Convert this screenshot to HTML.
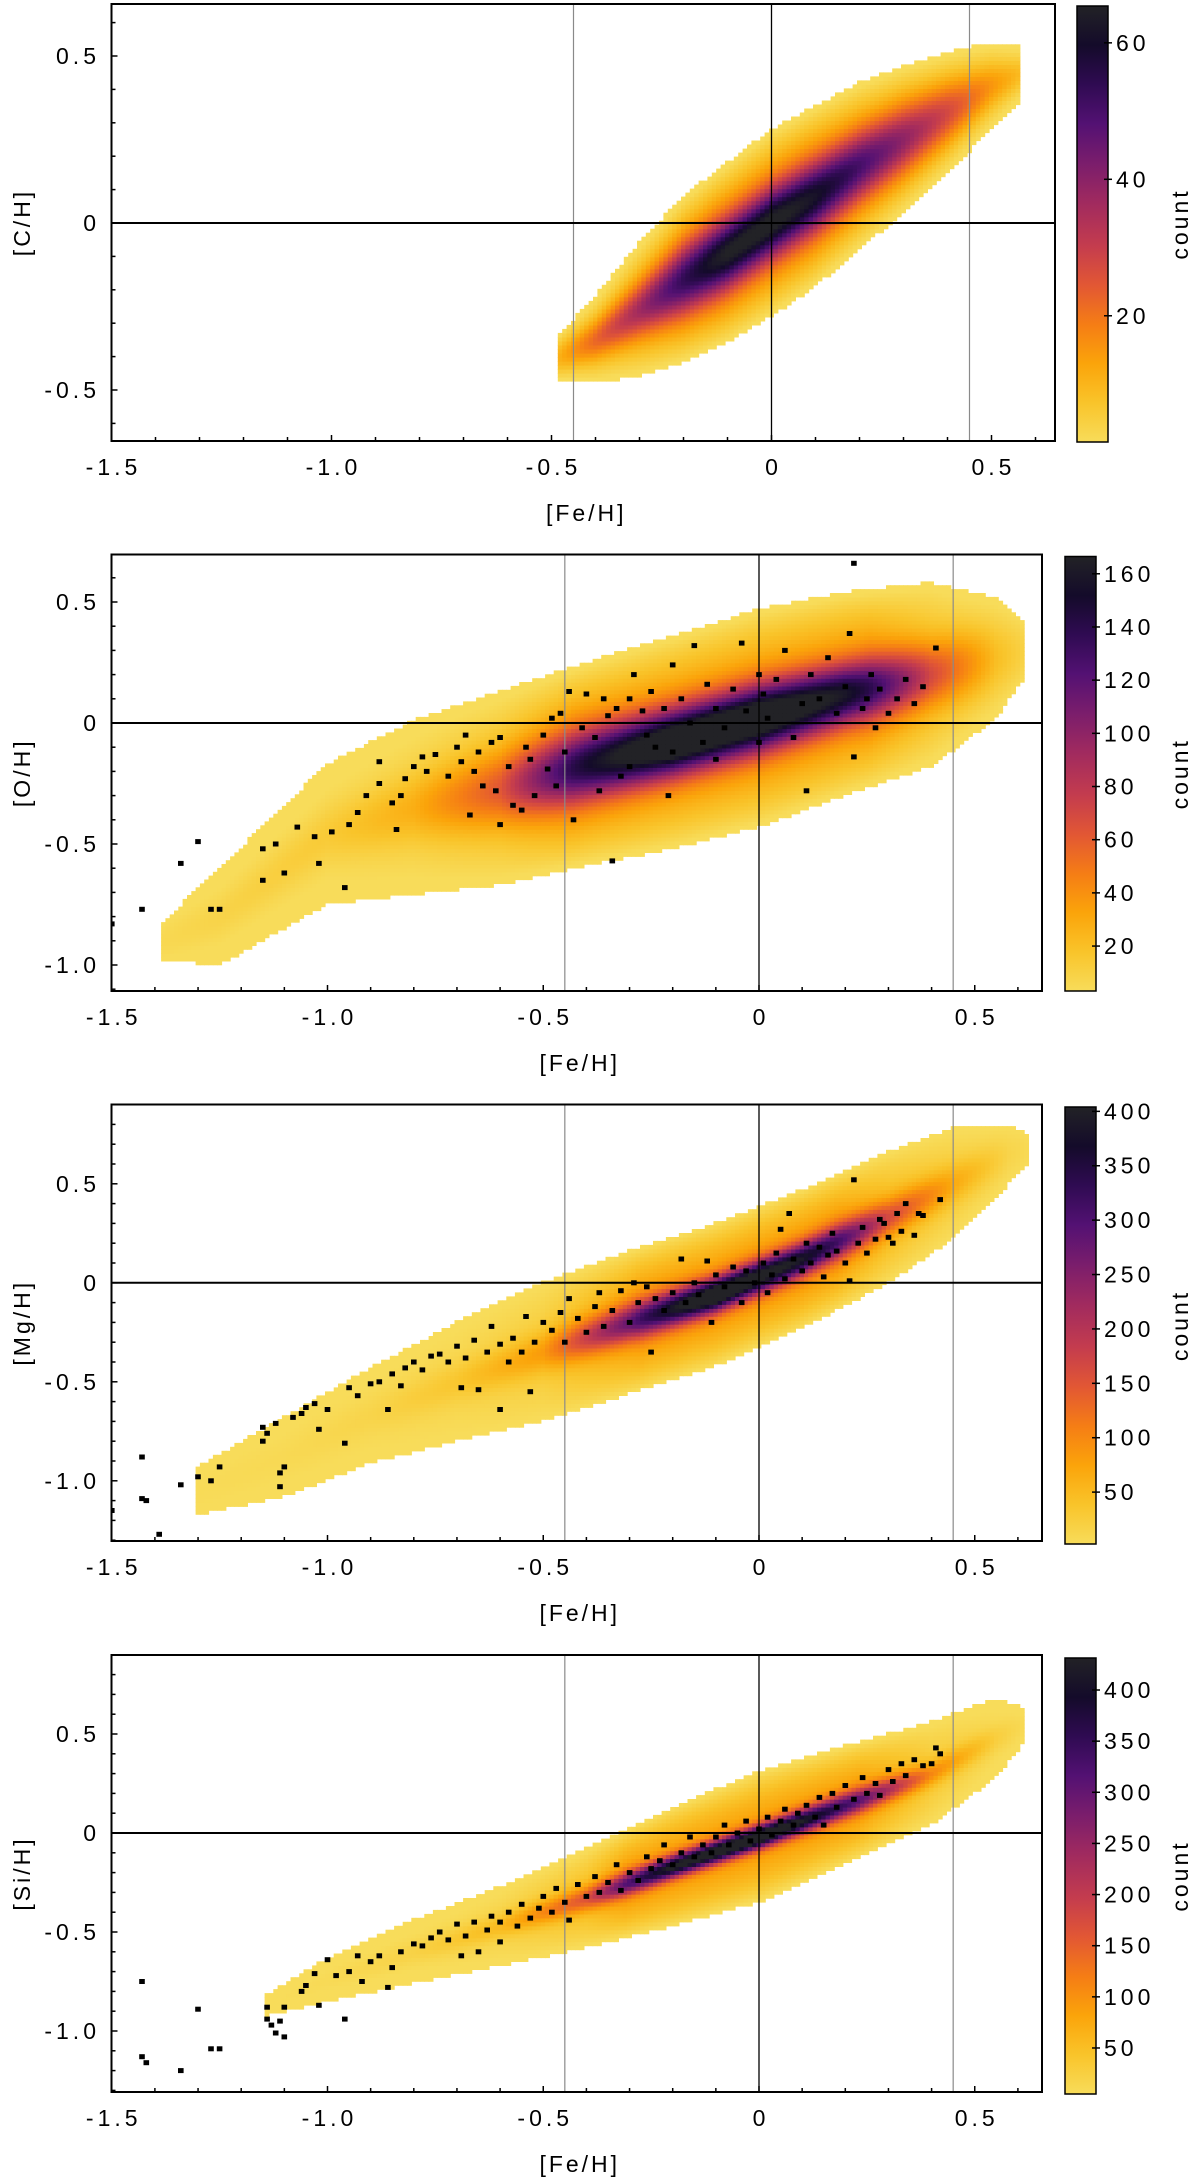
<!DOCTYPE html>
<html><head><meta charset="utf-8"><style>
html,body{margin:0;padding:0;background:#fff}
svg{display:block}
text{font-family:"Liberation Sans",sans-serif;fill:#000}
.tk{font-size:23px;letter-spacing:4px}
.ttl{font-size:23px;letter-spacing:3px}
</style></head><body>
<svg id="fig" width="1200" height="2182" viewBox="0 0 1200 2182" xmlns="http://www.w3.org/2000/svg">
<defs>
<linearGradient id="cmap" x1="0" y1="1" x2="0" y2="0">
<stop offset="0" stop-color="#f8dc5a"/><stop offset="0.09" stop-color="#f9c42a"/><stop offset="0.18" stop-color="#fba40a"/><stop offset="0.27" stop-color="#f57d15"/><stop offset="0.36" stop-color="#e25734"/><stop offset="0.45" stop-color="#c43c4e"/><stop offset="0.55" stop-color="#a02a5f"/><stop offset="0.64" stop-color="#7a1d6c"/><stop offset="0.73" stop-color="#531173"/><stop offset="0.82" stop-color="#2f0b52"/><stop offset="0.91" stop-color="#140b2a"/><stop offset="1" stop-color="#222226"/>
</linearGradient>
</defs>
</svg>
<script>
// ---------- data ----------
// Plot 1 [C/H] ridge knots
const c_fe = [-0.48,-0.4,-0.3,-0.2,-0.1,0,0.1,0.2,0.3,0.4,0.5,0.57];
const c_center = [-0.40,-0.35,-0.26,-0.17,-0.09,0.0,0.08,0.17,0.25,0.33,0.41,0.45];
const c_hw = [0.07,0.13,0.2,0.25,0.27,0.28,0.27,0.25,0.22,0.18,0.13,0.08];
const c_core = [0.05,0.06,0.08,0.1,0.1,0.1,0.1,0.1,0.1,0.09,0.07,0.05];
const c_peak = [8,16,26,38,48,50,44,36,28,20,11,6];
// Plot 2 [O/H]
const o_fe = [-1.38,-1.25,-1.0,-0.8,-0.6,-0.4,-0.2,0,0.2,0.4,0.55,0.62];
const o_center = [-0.9,-0.8,-0.46,-0.35,-0.27,-0.17,-0.08,0.02,0.12,0.2,0.27,0.3];
const o_hw = [0.08,0.2,0.29,0.36,0.4,0.42,0.44,0.45,0.42,0.38,0.25,0.1];
const o_core = [0.1,0.1,0.12,0.14,0.15,0.14,0.13,0.13,0.12,0.13,0.15,0.15];
const o_peak = [4,6,10,20,45,110,160,160,120,50,15,6];
const o_ptx = [-1.5,-1.43,-1.34,-1.3,-1.27,-1.25,-1.15,-1.15,-1.12,-1.1,-1.07,-1.03,-1.02,-0.99,-0.96,-0.95,-0.93,-0.91,-0.88,-0.88,-0.85,-0.84,-0.83,-0.82,-0.8,-0.78,-0.77,-0.75,-0.72,-0.7,-0.69,-0.68,-0.67,-0.66,-0.65,-0.64,-0.62,-0.61,-0.6,-0.6,-0.58,-0.57,-0.55,-0.54,-0.53,-0.52,-0.5,-0.49,-0.48,-0.47,-0.46,-0.45,-0.44,-0.43,-0.41,-0.4,-0.38,-0.37,-0.36,-0.35,-0.34,-0.33,-0.32,-0.3,-0.3,-0.29,-0.27,-0.26,-0.25,-0.24,-0.22,-0.21,-0.2,-0.2,-0.18,-0.16,-0.15,-0.13,-0.12,-0.1,-0.1,-0.08,-0.06,-0.04,-0.03,0.0,0.0,0.01,0.02,0.04,0.06,0.08,0.1,0.11,0.12,0.14,0.16,0.18,0.2,0.21,0.22,0.22,0.24,0.25,0.26,0.27,0.28,0.3,0.32,0.34,0.36,0.38,0.41];
const o_pty = [-0.83,-0.77,-0.58,-0.49,-0.77,-0.77,-0.65,-0.52,-0.5,-0.62,-0.43,-0.47,-0.58,-0.45,-0.68,-0.42,-0.37,-0.3,-0.25,-0.16,-0.33,-0.44,-0.3,-0.23,-0.18,-0.14,-0.2,-0.13,-0.22,-0.1,-0.16,-0.05,-0.38,-0.2,-0.12,-0.26,-0.08,-0.28,-0.42,-0.06,-0.18,-0.34,-0.36,-0.1,-0.15,-0.3,-0.05,-0.19,0.02,-0.26,0.04,-0.12,0.13,-0.4,-0.02,0.12,-0.06,-0.28,0.1,0.03,-0.57,0.06,-0.22,0.1,-0.18,0.2,0.05,-0.05,0.13,-0.1,0.06,-0.3,0.24,-0.12,0.1,0.0,0.32,-0.08,0.16,0.06,-0.15,-0.02,0.14,0.33,0.05,0.2,-0.08,0.12,0.02,0.18,0.3,-0.06,0.08,-0.28,0.2,0.1,0.27,0.04,0.15,0.37,-0.14,0.66,0.06,0.1,0.2,-0.02,0.14,0.04,0.1,0.18,0.08,0.15,0.31];
// Plot 3 [Mg/H]
const m_fe = [-1.3,-1.1,-0.9,-0.7,-0.5,-0.3,-0.1,0.1,0.3,0.45,0.58,0.63];
const m_center = [-1.05,-0.88,-0.67,-0.5,-0.35,-0.2,-0.06,0.12,0.33,0.5,0.65,0.68];
const m_hw = [0.12,0.2,0.24,0.3,0.35,0.36,0.36,0.35,0.33,0.28,0.15,0.06];
const m_core = [0.1,0.1,0.1,0.1,0.1,0.09,0.08,0.08,0.09,0.1,0.1,0.1];
const m_peak = [3,5,10,25,60,200,400,300,120,50,10,4];
const m_ptx = [-1.5,-1.43,-1.43,-1.42,-1.39,-1.34,-1.3,-1.27,-1.25,-1.15,-1.15,-1.14,-1.12,-1.11,-1.11,-1.1,-1.08,-1.06,-1.05,-1.03,-1.02,-1.0,-0.96,-0.95,-0.93,-0.9,-0.88,-0.86,-0.85,-0.83,-0.82,-0.8,-0.78,-0.76,-0.74,-0.72,-0.7,-0.69,-0.68,-0.66,-0.65,-0.63,-0.62,-0.6,-0.6,-0.58,-0.57,-0.55,-0.54,-0.53,-0.52,-0.5,-0.48,-0.46,-0.45,-0.44,-0.42,-0.4,-0.38,-0.37,-0.36,-0.34,-0.32,-0.3,-0.29,-0.28,-0.26,-0.25,-0.24,-0.22,-0.2,-0.18,-0.17,-0.15,-0.14,-0.12,-0.11,-0.1,-0.08,-0.06,-0.04,-0.03,-0.01,0.01,0.02,0.03,0.04,0.05,0.06,0.07,0.08,0.1,0.11,0.12,0.14,0.15,0.16,0.17,0.18,0.2,0.21,0.22,0.23,0.24,0.25,0.27,0.28,0.29,0.3,0.31,0.32,0.33,0.34,0.36,0.37,0.38,0.42];
const m_pty = [-1.15,-0.88,-1.09,-1.1,-1.27,-1.02,-0.98,-1.0,-0.93,-0.73,-0.8,-0.76,-0.71,-1.03,-0.96,-0.93,-0.68,-0.66,-0.63,-0.61,-0.74,-0.64,-0.81,-0.53,-0.57,-0.51,-0.5,-0.64,-0.46,-0.52,-0.43,-0.4,-0.44,-0.37,-0.36,-0.4,-0.32,-0.53,-0.38,-0.29,-0.54,-0.35,-0.22,-0.31,-0.64,-0.4,-0.28,-0.35,-0.17,-0.55,-0.3,-0.2,-0.24,-0.15,-0.3,-0.08,-0.18,-0.25,-0.12,-0.05,-0.22,-0.14,-0.04,-0.2,0.0,-0.1,-0.02,-0.35,-0.08,-0.14,-0.05,0.12,-0.1,0.0,-0.06,0.11,-0.2,0.04,-0.02,0.08,-0.1,0.06,0.0,0.1,-0.05,0.04,0.15,0.27,0.02,0.35,0.12,0.06,0.2,0.1,0.18,0.03,0.14,0.25,0.16,0.1,0.01,0.52,0.2,0.28,0.15,0.22,0.32,0.3,0.23,0.2,0.35,0.26,0.4,0.24,0.35,0.34,0.42];
// Plot 4 [Si/H]
const s_fe = [-1.15,-1.0,-0.8,-0.6,-0.4,-0.2,0,0.2,0.4,0.55,0.62];
const s_center = [-0.88,-0.74,-0.6,-0.47,-0.33,-0.17,-0.02,0.14,0.3,0.48,0.55];
const s_hw = [0.05,0.11,0.16,0.2,0.25,0.3,0.33,0.3,0.26,0.2,0.08];
const s_core = [0.06,0.06,0.06,0.06,0.06,0.055,0.055,0.06,0.06,0.07,0.07];
const s_peak = [3,6,15,40,120,350,430,250,80,20,5];
const s_ptx = [-1.43,-1.43,-1.42,-1.34,-1.3,-1.27,-1.25,-1.14,-1.14,-1.13,-1.12,-1.11,-1.1,-1.1,-1.06,-1.05,-1.03,-1.02,-1.0,-0.98,-0.96,-0.95,-0.93,-0.92,-0.9,-0.88,-0.86,-0.85,-0.83,-0.8,-0.78,-0.76,-0.74,-0.72,-0.7,-0.69,-0.68,-0.66,-0.65,-0.63,-0.62,-0.6,-0.6,-0.58,-0.56,-0.55,-0.53,-0.51,-0.5,-0.48,-0.47,-0.45,-0.44,-0.42,-0.4,-0.38,-0.37,-0.35,-0.33,-0.32,-0.3,-0.28,-0.26,-0.25,-0.23,-0.22,-0.2,-0.18,-0.16,-0.15,-0.13,-0.11,-0.1,-0.08,-0.07,-0.05,-0.03,-0.02,0.0,0.02,0.03,0.05,0.06,0.08,0.09,0.11,0.13,0.14,0.15,0.17,0.18,0.2,0.22,0.24,0.25,0.27,0.28,0.3,0.31,0.33,0.34,0.36,0.38,0.4,0.41,0.42];
const s_pty = [-0.75,-1.13,-1.16,-1.2,-0.89,-1.09,-1.09,-0.94,-0.88,-0.97,-1.01,-0.95,-1.03,-0.88,-0.8,-0.77,-0.71,-0.87,-0.64,-0.72,-0.94,-0.7,-0.62,-0.75,-0.65,-0.62,-0.78,-0.68,-0.6,-0.56,-0.57,-0.53,-0.5,-0.54,-0.46,-0.62,-0.52,-0.45,-0.6,-0.49,-0.42,-0.55,-0.45,-0.4,-0.47,-0.36,-0.43,-0.38,-0.32,-0.4,-0.28,-0.35,-0.44,-0.26,-0.32,-0.22,-0.3,-0.25,-0.16,-0.29,-0.2,-0.24,-0.12,-0.18,-0.14,-0.06,-0.16,-0.1,-0.02,-0.12,-0.06,-0.1,-0.02,0.04,-0.06,0.0,0.06,-0.04,0.02,0.08,-0.01,0.06,0.12,0.04,0.1,0.14,0.08,0.18,0.04,0.2,0.13,0.24,0.17,0.28,0.2,0.25,0.19,0.32,0.26,0.35,0.29,0.37,0.34,0.35,0.43,0.4];
// tick labels
const xTickVals = [-1.5,-1.0,-0.5,0,0.5];
const xTickLabels = ["-1.5","-1.0","-0.5","0","0.5"];
const y1TickVals = [0.5,0,-0.5];
const y1TickLabels = ["0.5","0","-0.5"];
const yTickVals = [0.5,0,-0.5,-1.0];
const yTickLabels = ["0.5","0","-0.5","-1.0"];
const cb1Ticks = [20,40,60];
const cb2Ticks = [20,40,60,80,100,120,140,160];
const cb3Ticks = [50,100,150,200,250,300,350,400];
const cb4Ticks = [50,100,150,200,250,300,350,400];

// ---------- rendering ----------
const NS = "http://www.w3.org/2000/svg";
const svg = document.getElementById('fig');
const pal = ['#f8dc5a','#f9c42a','#fba40a','#f57d15','#e25734','#c43c4e','#a02a5f','#7a1d6c','#531173','#2f0b52','#140b2a','#222226'];
function hex(h){return [parseInt(h.substr(1,2),16),parseInt(h.substr(3,2),16),parseInt(h.substr(5,2),16)];}
const palRGB = pal.map(hex);
function cmap(t){t=Math.max(0,Math.min(1,t));const f=t*(pal.length-1);const i=Math.min(pal.length-2,Math.floor(f));const u=f-i;const a=palRGB[i],b=palRGB[i+1];return 'rgb('+Math.round(a[0]+(b[0]-a[0])*u)+','+Math.round(a[1]+(b[1]-a[1])*u)+','+Math.round(a[2]+(b[2]-a[2])*u)+')';}
function mk(tag, attrs, parent){const e=document.createElementNS(NS,tag);for(const k in attrs)e.setAttribute(k,attrs[k]);(parent||svg).appendChild(e);return e;}
function interp(xs, ys, x){if(x<=xs[0])return ys[0];for(let i=1;i<xs.length;i++){if(x<=xs[i]){const u=(x-xs[i-1])/(xs[i]-xs[i-1]);return ys[i-1]+(ys[i]-ys[i-1])*u;}}return ys[ys.length-1];}

const plots = [
 {name:'c-h',ylabel:'[C/H]',box:{l:111.5,r:1055,t:4,b:441},x0:771.5,xu:440,y0:223,yu:334,dy:0.012,env:18,
  fe:c_fe,center:c_center,hw:c_hw,core:c_core,peak:c_peak,ptx:null,pty:null,
  yt:y1TickVals,ytl:y1TickLabels,cb:{l:1077,r:1108,t:6,b:442,min:1.5,max:65.4},cbt:cb1Ticks},
 {name:'o-h',ylabel:'[O/H]',box:{l:111.5,r:1042,t:554.5,b:991},x0:759,xu:431.5,y0:723,yu:242,dy:0.016,env:40,
  fe:o_fe,center:o_center,hw:o_hw,core:o_core,peak:o_peak,ptx:o_ptx,pty:o_pty,
  yt:yTickVals,ytl:yTickLabels,cb:{l:1065,r:1096,t:556.5,b:991,min:3.1,max:166.5},cbt:cb2Ticks},
 {name:'mg-h',ylabel:'[Mg/H]',box:{l:111.5,r:1042,t:1104.5,b:1541},x0:759,xu:431.5,y0:1282.8,yu:198,dy:0.02,env:90,
  fe:m_fe,center:m_center,hw:m_hw,core:m_core,peak:m_peak,ptx:m_ptx,pty:m_pty,
  yt:yTickVals,ytl:yTickLabels,cb:{l:1065,r:1096,t:1107,b:1544,min:2.3,max:404},cbt:cb3Ticks},
 {name:'si-h',ylabel:'[Si/H]',box:{l:111.5,r:1042,t:1655,b:2092},x0:759,xu:431.5,y0:1833,yu:198,dy:0.02,env:90,
  fe:s_fe,center:s_center,hw:s_hw,core:s_core,peak:s_peak,ptx:s_ptx,pty:s_pty,
  yt:yTickVals,ytl:yTickLabels,cb:{l:1065,r:1096,t:1658,b:2094,min:5,max:431.3},cbt:cb4Ticks}
];

plots.forEach(function(p){
  const B=p.box;
  const X=v=>p.x0+v*p.xu, Y=v=>p.y0-v*p.yu;
  const g=mk('g',{});
  
  
  const clipId='clip-'+p.name;
  const cp=mk('clipPath',{id:clipId},g);mk('rect',{x:B.l,y:B.t,width:B.r-B.l,height:B.b-B.t},cp);
  const heat=mk('g',{'clip-path':'url(#'+clipId+')'},g);
  
  
  const dx=0.01, wpx=dx*p.xu+0.6, hpx=p.dy*p.yu+0.6;
  const fmin=p.fe[0], fmax=p.fe[p.fe.length-1];
  for(let fx=Math.ceil(fmin/dx)*dx; fx<=fmax; fx+=dx){
    const c=interp(p.fe,p.center,fx), hw=interp(p.fe,p.hw,fx), core=interp(p.fe,p.core,fx), pk=interp(p.fe,p.peak,fx);
    const env=Math.min(pk*0.4,p.env);
    const ys=Math.floor((c-hw)/p.dy), ye=Math.ceil((c+hw)/p.dy);
    for(let j=ys;j<=ye;j++){
      const yv=j*p.dy, d=Math.abs(yv-c);
      if(d>hw) continue;
      const cnt=pk*Math.exp(-(d/core)*(d/core))+env*(1-(d/hw)*(d/hw));
      const r=mk('rect',{x:(X(fx)-wpx/2).toFixed(1),y:(Y(yv)-hpx/2).toFixed(1),width:wpx.toFixed(1),height:hpx.toFixed(1),fill:cmap((cnt-p.cb.min)/(p.cb.max-p.cb.min))},heat);
      
      
    }
  }
  [-0.45,0.45].forEach(function(v){const l=mk('line',{x1:X(v),x2:X(v),y1:B.t,y2:B.b,stroke:'#8a8a8a','stroke-width':1.2},g);
    
    });
  const l0=mk('line',{x1:X(0),x2:X(0),y1:B.t,y2:B.b,stroke:'#000','stroke-width':1.3},g);
  
  
  const h0=mk('line',{x1:B.l,x2:B.r,y1:Y(0),y2:Y(0),stroke:'#000','stroke-width':2},g);
  
  
  if(p.ptx){
    const sg=mk('g',{'clip-path':'url(#'+clipId+')'},g);
    
    
    for(let i=0;i<p.ptx.length;i++){
      const q=mk('rect',{x:(X(p.ptx[i])-2.8).toFixed(1),y:(Y(p.pty[i])-2.5).toFixed(1),width:5.6,height:5,fill:'#000'},sg);
      
      
    }
  }
  const fr=mk('rect',{x:B.l,y:B.t,width:B.r-B.l,height:B.b-B.t,fill:'none',stroke:'#000','stroke-width':2},g);
  
  
  for(let k=-15;k<=6;k++){const v=k/10;const px=X(v);if(px<B.l-0.5||px>B.r)continue;const major=(k%5===0);
    const t=mk('line',{x1:px,x2:px,y1:B.b,y2:B.b-(major?6:4),stroke:'#000','stroke-width':1.5},g);
    
    }
  xTickVals.forEach(function(v,i){const t=mk('text',{x:X(v)+2,y:B.b+34,'text-anchor':'middle','class':'tk'},g);t.textContent=xTickLabels[i];
    
    });
  const xt=mk('text',{x:(B.l+B.r)/2+3,y:B.b+80,'text-anchor':'middle','class':'ttl'},g);xt.textContent='[Fe/H]';
  
  
  for(let k=-14;k<=9;k++){const v=k/10;const py=Y(v);if(py<B.t||py>B.b)continue;const major=(k%5===0);
    const t=mk('line',{x1:B.l,x2:B.l+(major?6:4),y1:py,y2:py,stroke:'#000','stroke-width':1.5},g);
    
    }
  p.yt.forEach(function(v,i){const t=mk('text',{x:100,y:Y(v)+8,'text-anchor':'end','class':'tk'},g);t.textContent=p.ytl[i];
    
    });
  const yc=(B.t+B.b)/2;
  const yt=mk('text',{x:22,y:yc,'text-anchor':'middle','class':'ttl',transform:'rotate(-90 22 '+yc+') translate(0 8)'},g);yt.textContent=p.ylabel;
  
  
  const C=p.cb;
  const cbr=mk('rect',{x:C.l,y:C.t,width:C.r-C.l,height:C.b-C.t,fill:'url(#cmap)',stroke:'#000','stroke-width':1.5},g);
  
  
  const CY=v=>C.b-(v-C.min)/(C.max-C.min)*(C.b-C.t);
  p.cbt.forEach(function(v){const py=CY(v);
    const t=mk('line',{x1:C.r-4,x2:C.r+4,y1:py,y2:py,stroke:'#000','stroke-width':1.5},g);
    
    
    const tl=mk('text',{x:C.r+8,y:py+8,'class':'tk'},g);tl.textContent=String(v);
    
    });
  const cyc=(C.t+C.b)/2;
  const ct=mk('text',{x:1180,y:cyc,'text-anchor':'middle','class':'ttl',transform:'rotate(-90 1180 '+cyc+') translate(0 8)'},g);ct.textContent='count';
  
  
});
</script>
</body></html>
